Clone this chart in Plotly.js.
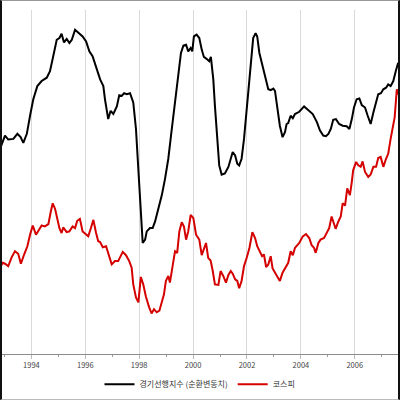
<!DOCTYPE html>
<html>
<head>
<meta charset="utf-8">
<script src="https://cdn.plot.ly/plotly-3.0.1.min.js"></script>
<style>
html,body{margin:0;padding:0;background:#fff;}
#chart{width:400px;height:400px;box-sizing:border-box;border-left:2px solid #111;border-right:2px solid #111;border-top:1px solid #999;border-bottom:1px solid #bbb;}
</style>
</head>
<body>
<div id="chart"></div>
<script>
// Leading index (cyclical component) — decimal years
const leadX = [1992.84,1993.02,1993.14,1993.33,1993.48,1993.60,1993.70,1993.83,1993.95,1994.07,1994.22,1994.38,1994.57,1994.69,1994.81,1994.94,1995.04,1995.12,1995.21,1995.31,1995.41,1995.50,1995.62,1995.74,1995.90,1996.03,1996.15,1996.27,1996.42,1996.55,1996.67,1996.73,1996.85,1996.94,1997.04,1997.17,1997.26,1997.35,1997.44,1997.54,1997.66,1997.78,1997.88,1997.97,1998.06,1998.13,1998.22,1998.28,1998.40,1998.50,1998.59,1998.71,1998.84,1998.96,1999.08,1999.21,1999.33,1999.45,1999.55,1999.64,1999.74,1999.82,1999.91,1999.97,2000.03,2000.13,2000.23,2000.32,2000.40,2000.50,2000.60,2000.66,2000.75,2000.81,2000.90,2000.97,2001.06,2001.18,2001.31,2001.40,2001.47,2001.56,2001.64,2001.71,2001.80,2001.89,2001.99,2002.09,2002.17,2002.23,2002.32,2002.38,2002.46,2002.55,2002.67,2002.79,2002.88,2002.98,2003.04,2003.12,2003.22,2003.32,2003.41,2003.47,2003.53,2003.62,2003.70,2003.78,2003.94,2004.12,2004.27,2004.44,2004.59,2004.71,2004.83,2004.93,2005.02,2005.11,2005.20,2005.30,2005.42,2005.55,2005.70,2005.80,2005.89,2005.97,2006.07,2006.17,2006.26,2006.38,2006.48,2006.59,2006.69,2006.79,2006.87,2006.97,2007.06,2007.16,2007.24,2007.33,2007.43,2007.52,2007.61];
const leadY = [97.94,98.77,98.52,98.56,98.88,98.67,98.31,98.88,100.02,101.06,101.89,102.21,102.42,102.83,103.77,104.81,104.92,105.19,104.64,104.86,104.61,104.81,105.44,105.27,105.02,104.71,104.08,103.77,102.94,102.31,101.89,101.06,99.81,100.33,100.13,100.61,101.31,101.27,101.44,101.38,101.44,100.86,99.19,96.69,93.98,92.00,92.21,92.73,92.94,92.94,93.36,94.08,95.02,96.06,97.31,99.19,100.86,102.73,103.98,104.44,104.50,104.08,104.29,104.08,105.02,105.13,104.92,104.19,103.73,103.61,103.46,103.73,102.31,100.64,98.56,96.89,96.31,96.38,96.79,97.42,97.73,97.52,97.00,96.89,97.31,98.56,100.44,102.31,104.19,104.92,105.23,105.02,103.98,103.36,102.63,101.69,101.64,101.73,101.58,100.64,99.39,98.67,98.98,99.50,99.56,100.02,99.86,100.13,100.27,100.61,100.39,100.13,99.64,99.08,98.77,98.73,98.88,99.19,99.77,99.81,99.50,99.39,99.36,99.19,99.81,100.54,101.06,101.11,100.69,100.54,100.02,99.50,100.23,100.86,101.38,101.44,101.69,101.79,102.00,101.89,102.21,102.83,103.36];

// KOSPI — decimal years
const kospiX = [1992.84,1992.94,1993.02,1993.14,1993.27,1993.39,1993.51,1993.61,1993.73,1993.85,1993.95,1994.05,1994.17,1994.26,1994.38,1994.50,1994.63,1994.72,1994.79,1994.88,1994.96,1995.04,1995.12,1995.18,1995.31,1995.41,1995.53,1995.62,1995.70,1995.80,1995.90,1996.03,1996.11,1996.20,1996.30,1996.40,1996.48,1996.55,1996.65,1996.77,1996.85,1996.98,1997.10,1997.22,1997.39,1997.51,1997.63,1997.72,1997.78,1997.88,1997.97,1998.06,1998.15,1998.25,1998.37,1998.46,1998.55,1998.65,1998.75,1998.84,1998.92,1998.99,1999.08,1999.14,1999.24,1999.33,1999.41,1999.49,1999.58,1999.66,1999.74,1999.82,1999.91,2000.01,2000.11,2000.23,2000.32,2000.40,2000.48,2000.56,2000.65,2000.73,2000.81,2000.94,2001.02,2001.12,2001.22,2001.31,2001.40,2001.47,2001.56,2001.64,2001.71,2001.80,2001.89,2001.99,2002.09,2002.20,2002.30,2002.38,2002.48,2002.56,2002.63,2002.71,2002.79,2002.88,2002.95,2003.04,2003.12,2003.22,2003.32,2003.45,2003.53,2003.62,2003.70,2003.78,2003.94,2004.07,2004.19,2004.31,2004.40,2004.49,2004.55,2004.65,2004.73,2004.86,2004.96,2005.05,2005.14,2005.20,2005.29,2005.39,2005.48,2005.55,2005.64,2005.72,2005.82,2005.89,2005.94,2006.05,2006.13,2006.22,2006.29,2006.38,2006.50,2006.59,2006.69,2006.79,2006.87,2006.96,2007.06,2007.16,2007.24,2007.33,2007.41,2007.48,2007.56,2007.64];
const kospiY = [632,663,656,639,704,747,728,656,723,783,867,934,867,896,934,927,944,1035,1095,1054,987,915,879,920,886,891,927,915,968,982,891,867,855,910,975,879,819,814,776,783,735,651,675,675,742,718,675,627,506,411,375,560,506,416,339,295,326,303,315,387,434,531,567,519,639,747,735,891,958,927,831,891,1011,987,867,831,718,759,807,699,679,603,506,502,603,567,519,574,603,584,543,531,478,531,639,699,771,886,843,783,747,711,723,632,651,711,622,591,574,531,591,632,663,747,718,771,807,855,872,843,790,771,735,807,831,843,879,915,999,958,910,963,999,1095,1079,1203,1155,1251,1335,1396,1371,1360,1400,1323,1287,1304,1360,1360,1424,1432,1360,1419,1455,1563,1664,1720,1924,1880];

const tickYears = [1994,1996,1998,2000,2002,2004,2006];
const tickLabels = ['1994','1996','1998','2000','2002','2004','2006'];
const seriesNames = ['경기선행지수 (순환변동치)','코스피'];

const font = '"Noto Sans CJK KR", "Noto Sans", sans-serif';

const traces = [
  {x: leadX, y: leadY, name: seriesNames[0], type: 'scatter', mode: 'lines',
   line: {color: '#000000', width: 2}, yaxis: 'y'},
  {x: kospiX, y: kospiY, name: seriesNames[1], type: 'scatter', mode: 'lines',
   line: {color: '#d50000', width: 2}, yaxis: 'y2'}
];

const layout = {
  width: 396, height: 398,
  margin: {l: 0, r: 0, t: 9, b: 42},
  paper_bgcolor: '#ffffff', plot_bgcolor: '#ffffff',
  showlegend: true,
  font: {family: font, color: '#333'},
  xaxis: {
    range: [1992.909, 2007.604],
    tickmode: 'array', tickvals: tickYears, ticktext: tickLabels,
    showgrid: true, gridcolor: '#d9d9d9', gridwidth: 1,
    ticks: 'outside', ticklen: 4, tickcolor: '#bbbbbb', tickwidth: 1,
    minor: {tick0: 1993, dtick: 1, ticks: 'outside', ticklen: 2, tickcolor: '#999999', showgrid: false},
    showline: true, linecolor: '#8c8c8c', linewidth: 1,
    zeroline: false,
    tickfont: {family: font, size: 7.5, color: '#444'}
  },
  yaxis: {range: [85, 106.6875], showgrid: false, showticklabels: false, zeroline: false, showline: false, ticks: ''},
  yaxis2: {range: [0, 2500], overlaying: 'y', side: 'right', showgrid: false, showticklabels: false, zeroline: false, showline: false, ticks: ''},
  legend: {orientation: 'h', x: 0.5, xanchor: 'center', y: -0.088, yanchor: 'middle',
           font: {family: font, size: 8, color: '#333'}, itemwidth: 30, bgcolor: 'rgba(0,0,0,0)'}
};

Plotly.newPlot('chart', traces, layout, {displayModeBar: false, staticPlot: true});
</script>
</body>
</html>
